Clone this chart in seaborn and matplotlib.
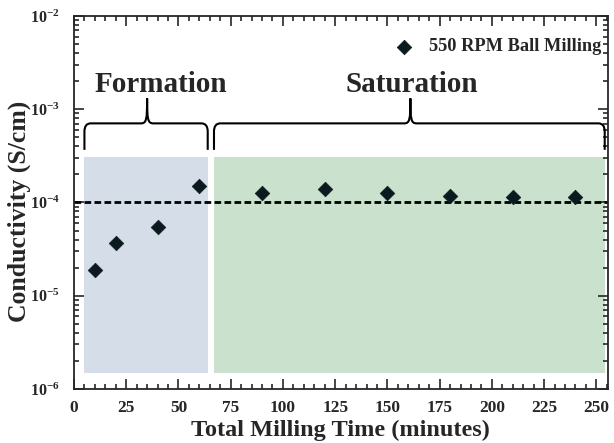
import numpy as np
import pandas as pd
import seaborn as sns
import matplotlib.pyplot as plt
from matplotlib.path import Path
from matplotlib.patches import PathPatch, Rectangle
from matplotlib.ticker import MultipleLocator, LogLocator, FuncFormatter, NullFormatter
import matplotlib.transforms as mtransforms

# Conductivity of the 550 RPM ball-milled sample versus total milling time
milling_time = [10, 20, 40, 60, 90, 120, 150, 180, 210, 240]
conductivity = [1.89e-5, 3.7e-5, 5.5e-5, 1.5e-4, 1.27e-4, 1.39e-4, 1.27e-4, 1.17e-4, 1.15e-4, 1.14e-4]
series_label = "550 RPM Ball Milling"

# Stages of the milling process: (name, start, end) in minutes
stage_names = ["Formation", "Saturation"]
stage_start = [5, 67]
stage_end = [64, 254]
stage_colors = ["#d5dde9", "#c9e1cd"]
band_low, band_high = 1.48e-6, 3.05e-4
plateau = 1e-4

x_ticks = [0, 25, 50, 75, 100, 125, 150, 175, 200, 225, 250]

sns.set_style("ticks")
plt.rcParams["font.family"] = ["Liberation Serif", "DejaVu Serif"]
plt.rcParams["font.weight"] = "bold"
plt.rcParams["mathtext.fontset"] = "custom"
plt.rcParams["mathtext.bf"] = "Liberation Serif:bold"
plt.rcParams["mathtext.rm"] = "Liberation Serif:bold"

df = pd.DataFrame({"time": milling_time, "sigma": conductivity})

fig = plt.figure(figsize=(6.14, 4.43), dpi=100)
ax = fig.add_axes([0.1205, 0.122, 0.8695, 0.842])

# shaded stage bands
for s0, s1, c in zip(stage_start, stage_end, stage_colors):
    ax.add_patch(Rectangle((s0, band_low), s1 - s0, band_high - band_low,
                           facecolor=c, edgecolor="none", zorder=0))

# plateau reference line
ax.axhline(plateau, color="black", lw=2.0, ls=(0, (2.4, 1.2)), zorder=2)

sns.scatterplot(data=df, x="time", y="sigma", marker="D", s=55, color="#0b1a1f",
                edgecolor="#0b1a1f", linewidth=0.5, ax=ax, zorder=3, label=series_label)

ax.set_yscale("log")
ax.set_xlim(0, 255.5)
ax.set_ylim(1e-6, 1e-2)

ax.set_xticks(x_ticks)
ax.xaxis.set_minor_locator(MultipleLocator(5))
ax.yaxis.set_major_locator(LogLocator(base=10, numticks=10))
ax.yaxis.set_minor_locator(LogLocator(base=10, subs=np.arange(2, 10), numticks=20))
ax.yaxis.set_major_formatter(FuncFormatter(lambda v, p: r"$\mathbf{10^{%d}}$" % round(np.log10(v))))
ax.yaxis.set_minor_formatter(NullFormatter())

ax.tick_params(which="both", direction="in", top=True, right=True, width=1.2, labelsize=12.5)
ax.tick_params(which="major", length=7)
ax.tick_params(which="minor", length=3.5)
ax.tick_params(axis="x", which="major", pad=8)
ax.tick_params(axis="y", which="major", pad=10, labelsize=11.5)
for lab in ax.get_xticklabels() + ax.get_yticklabels():
    lab.set_fontweight("bold")
for sp in ax.spines.values():
    sp.set_linewidth(1.3)

ax.set_xlabel("Total Milling Time (minutes)", fontsize=17.5, fontweight="bold", labelpad=3)
ax.set_ylabel("Conductivity (S/cm)", fontsize=18.5, fontweight="bold")
ax.yaxis.set_label_coords(-0.08, 0.477)

# curly braces over each stage, x in data units, y in axes fraction
trans = mtransforms.blended_transform_factory(ax.transData, ax.transAxes)
y_tip, y_bar, y_peak = 0.641, 0.712, 0.779
rx, ry = 3.0, 0.022
brace_peaks = [35, 161]
for s0, s1, xm in zip(stage_start, stage_end, brace_peaks):
    verts = [
        (s0, y_tip), (s0, y_bar - ry),
        (s0, y_bar), (s0 + rx, y_bar),
        (xm - rx, y_bar),
        (xm - 0.3, y_bar), (xm, y_bar + 0.01), (xm, y_peak),
        (xm, y_bar + 0.01), (xm + 0.3, y_bar), (xm + rx, y_bar),
        (s1 - rx, y_bar),
        (s1, y_bar), (s1, y_bar - ry),
        (s1, y_tip),
    ]
    codes = [Path.MOVETO, Path.LINETO,
             Path.CURVE3, Path.CURVE3,
             Path.LINETO,
             Path.CURVE4, Path.CURVE4, Path.CURVE4,
             Path.CURVE4, Path.CURVE4, Path.CURVE4,
             Path.LINETO,
             Path.CURVE3, Path.CURVE3,
             Path.LINETO]
    ax.add_patch(PathPatch(Path(verts, codes), transform=trans, facecolor="none",
                           edgecolor="black", lw=1.5, zorder=4, clip_on=False))

label_x = [41.5, 161.5]
for name, lx in zip(stage_names, label_x):
    ax.text(lx, 0.796, name, transform=trans, ha="center", va="baseline",
            fontsize=21, fontweight="bold")

leg = ax.legend(loc="center right", bbox_to_anchor=(0.988, 0.917), frameon=False,
                fontsize=13.2, handletextpad=0.35, borderaxespad=0, borderpad=0,
                markerscale=1.0)
for t in leg.get_texts():
    t.set_fontweight("bold")

fig.savefig("out.png", dpi=100)
